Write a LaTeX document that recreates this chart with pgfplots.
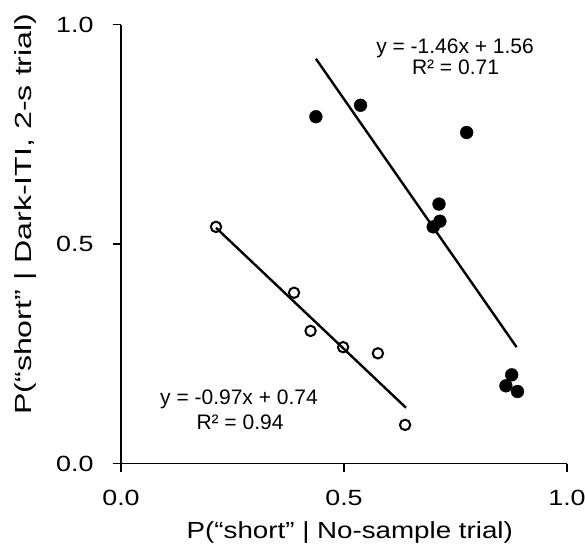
\documentclass[border=0pt]{standalone}
\usepackage{pgfplots}
\pgfplotsset{compat=1.18}
\usepackage{graphicx}
\usepackage{fontspec}
\setmainfont{Liberation Sans}
\begin{document}
\begin{tikzpicture}
\useasboundingbox (0,0) rectangle (585pt,550pt);
\begin{axis}[
  at={(121pt,86.5pt)}, anchor=south west,
  scale only axis, width=446pt, height=439pt,
  xmin=0, xmax=1, ymin=0, ymax=1,
  axis lines=left,
  axis line style={-, line width=1.5pt},
  tick style={line width=1.5pt, black},
  tick align=outside,
  major tick length=8pt,
  xtick={0,0.5,1}, ytick={0,0.5,1},
  xticklabels={\scalebox{1.22}[1]{0.0},\scalebox{1.22}[1]{0.5},\scalebox{1.22}[1]{1.0}},
  yticklabels={\scalebox{1.22}[1]{0.0},\scalebox{1.22}[1]{0.5},\scalebox{1.22}[1]{1.0}},
  xticklabel style={font=\fontsize{22pt}{26pt}\selectfont, anchor=base, inner sep=0pt, yshift=-33.8pt},
  yticklabel style={font=\fontsize{22pt}{26pt}\selectfont, anchor=east, inner sep=0pt, xshift=-19.3pt},
  xlabel={\scalebox{1.19}[1]{P(“short” | No-sample trial)}},
  ylabel={\scalebox{1.38}[1]{P(“short” | Dark-ITI, 2-s trial)}},
  xlabel style={font=\fontsize{23.3pt}{28pt}\selectfont, at={(axis description cs:0.513,-0.170)}, anchor=base, inner sep=0pt},
  ylabel style={font=\fontsize{23.3pt}{28pt}\selectfont, at={(axis description cs:-0.1996,0.568)}, rotate=0, anchor=base, inner sep=0pt},
  clip=false,
]
% regression lines
\addplot[black, line width=2.4pt] coordinates {(0.437,0.922) (0.887,0.265)};
\addplot[black, line width=2.4pt] coordinates {(0.213,0.537) (0.639,0.127)};
% filled points
\addplot[only marks, mark=*, mark size=6.4pt, black] coordinates {
(0.437,0.790) (0.537,0.816) (0.775,0.754) (0.713,0.591) (0.715,0.552)
(0.700,0.539) (0.876,0.202) (0.863,0.177) (0.889,0.164)};
% open points
\addplot[only marks, mark=o, mark size=5.2pt, black, mark options={line width=2pt}] coordinates {
(0.213,0.539) (0.388,0.389) (0.425,0.302) (0.498,0.265) (0.576,0.251) (0.637,0.088)};
\node[anchor=base, inner sep=0pt, font=\fontsize{21pt}{25pt}\selectfont] at (axis cs:0.749,0.933) {y = -1.46x + 1.56};
\node[anchor=base, inner sep=0pt, font=\fontsize{21pt}{25pt}\selectfont] at (axis cs:0.750,0.886) {R² = 0.71};
\node[anchor=base, inner sep=0pt, font=\fontsize{21pt}{25pt}\selectfont] at (axis cs:0.2646,0.1349) {y = -0.97x + 0.74};
\node[anchor=base, inner sep=0pt, font=\fontsize{21pt}{25pt}\selectfont] at (axis cs:0.2668,0.0779) {R² = 0.94};
\end{axis}
\end{tikzpicture}
\end{document}
